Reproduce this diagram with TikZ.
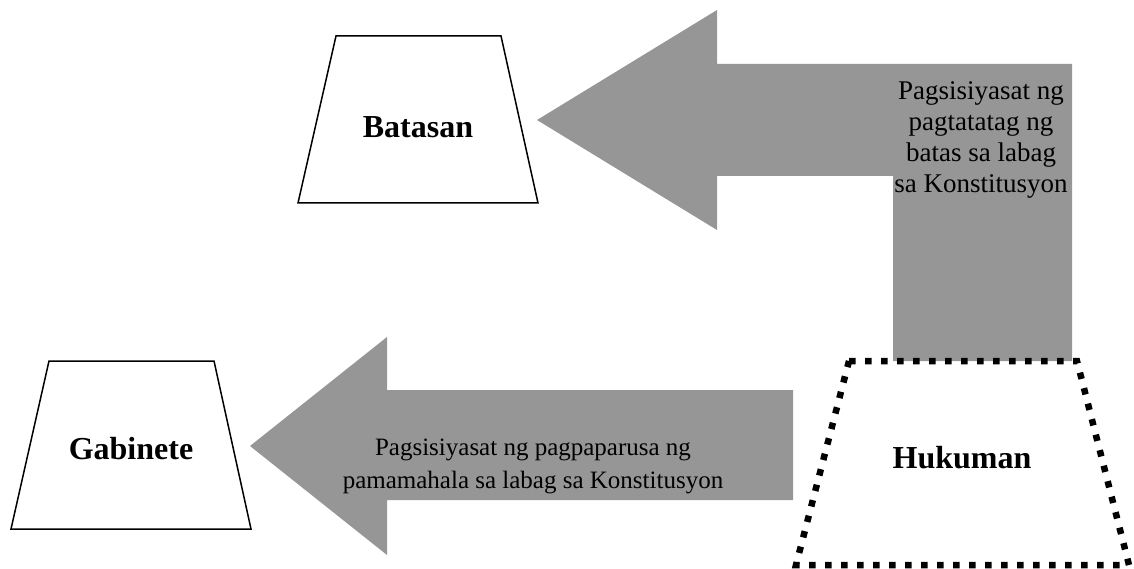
\documentclass[tikz,border=0pt]{standalone}
\usepackage{fontspec}
\setmainfont{Liberation Serif}
\usetikzlibrary{positioning}
\definecolor{arrowgray}{RGB}{150,150,150}

\begin{document}
\begin{tikzpicture}[x=1pt,y=-1pt,
    branch/.style={draw=black,line width=1.5pt,fill=white,line join=miter},
    court/.style={draw=black,line width=6.5pt,dash pattern=on 6.5pt off 9.5pt},
    bigarrow/.style={fill=arrowgray},
    branchname/.style={font=\fontsize{32}{38}\selectfont\bfseries},
    note/.style={font=\fontsize{27}{31}\selectfont,align=center}]
    \useasboundingbox (0,0) rectangle (1134,569);

    % Arrow from the court up and over to the legislature
    \fill [bigarrow] (1072,64) -- (717,64) -- (717,10) -- (537,120) -- (717,230)
        -- (717,176) -- (893,176) -- (893,361) -- (1072,361) -- cycle;
    \node [note] (checklaw) at (981,140) {Pagsisiyasat ng\\pagtatatag ng\\batas sa labag\\sa Konstitusyon};

    % Arrow from the court to the cabinet
    \fill [bigarrow] (793,390) -- (387,390) -- (387,337) -- (250,446) -- (387,555)
        -- (387,500) -- (793,500) -- cycle;
    \node [note, font=\fontsize{25}{33}\selectfont] (checkrule) at (533,466) {Pagsisiyasat ng pagpaparusa ng\\pamamahala sa labag sa Konstitusyon};

    % Branches
    \draw [branch] (336,36) -- (501,36) -- (538,203) -- (298,203) -- cycle;
    \node [branchname] (batasan) at (418,127) {Batasan};

    \draw [branch] (49,361) -- (214,361) -- (251,529) -- (11,529) -- cycle;
    \node [branchname] (gabinete) at (131,449) {Gabinete};

    \draw [court] (849,361) -- (1077,361) -- (1129,565) -- (796,565) -- cycle;
    \node [branchname] (hukuman) at (962,458) {Hukuman};
\end{tikzpicture}
\end{document}
